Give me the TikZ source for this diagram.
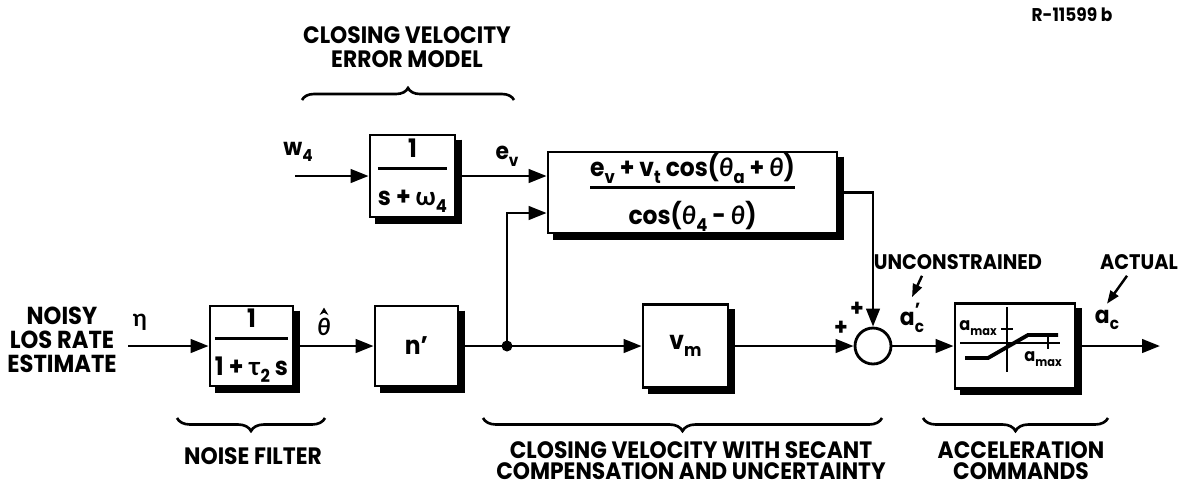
\documentclass[tikz,border=0pt]{standalone}
\usepackage{fontspec}
\usepackage{graphicx}
\setmainfont{Poppins}[FakeStretch=0.92]
\newfontfamily\gk{Lato}
\usetikzlibrary{arrows.meta,decorations.pathreplacing}
\newcommand\sbs[1]{\raisebox{-0.5ex}{\scalebox{0.7}{#1}}}
\newcommand\gth{{\gk\bfseries\itshape θ}}
\newcommand\fr[2]{\begin{tabular}{@{}c@{}}#1\\[1pt]\hline\rule{0pt}{2.5ex}#2\end{tabular}}
\setlength\arrayrulewidth{1.5pt}
\tikzset{
  conn/.style={line width=1.6pt},
  arr/.style={conn,-{Triangle[length=0.36cm,width=0.27cm]}},
  arrs/.style={line width=1.4pt,-{Triangle[length=0.26cm,width=0.19cm]}},
  blk/.style={draw,line width=1.6pt,inner sep=0pt,font=\fontsize{14.5}{15}\selectfont\bfseries},
  shd/.style={line width=3.2pt},
  brc/.style={line width=1.5pt,decorate},
  lab/.style={font=\fontsize{13.5}{14}\selectfont\bfseries},
  small/.style={font=\fontsize{12}{13}\selectfont\bfseries},
}
\begin{document}
\begin{tikzpicture}[x=0.02cm,y=-0.02cm,lab]
\useasboundingbox (0,0) rectangle (1183,488);
% blocks
\node[blk,minimum width=1.7cm,minimum height=1.64cm] (wb) at (412.5,176) {\fr{1}{s + {\gk\bfseries ω}\sbs{4}}};
\node[blk,minimum width=5.78cm,minimum height=1.62cm] (big) at (692.5,192.5) {\fr{e\sbs{v} + v\sbs{t} cos(\gth\sbs{a} + \gth)}{cos(\gth\sbs{4} - \gth)}};
\node[blk,minimum width=1.66cm,minimum height=1.6cm] (nf) at (251.5,346) {\fr{1}{1 + {\gk\bfseries τ}\sbs{2} s}};
\node[blk,minimum width=1.66cm,minimum height=1.6cm] (np) at (416.5,346) {n'};
\node[blk,minimum width=1.7cm,minimum height=1.66cm] (vm) at (685.5,346) {v\sbs{m}};
\node[circle,draw,line width=1.6pt,minimum size=0.72cm,inner sep=0pt] (sum) at (873,346) {};
\node[blk,minimum width=2.4cm,minimum height=1.7cm] (sat) at (1015,346) {};
% shadows
\foreach \n in {wb,big,nf,np,vm,sat}
  \draw[shd] ([shift={(0.05cm,-0.12cm)}]\n.north east) -- ([shift={(0.05cm,-0.05cm)}]\n.south east) -- ([shift={(0.12cm,-0.05cm)}]\n.south west);
% saturation graph
\draw[line width=1.4pt] (960,343) -- (1060,343);
\draw[line width=1.4pt] (1007,307) -- (1007,372);
\draw[line width=2.2pt] (965,358) -- (988,358) -- (1028,335) -- (1058,335);
\draw[line width=1.4pt] (1001,329) -- (1013,329);
\draw[line width=1.4pt] (1048,337) -- (1048,349);
\node[font=\fontsize{10}{11}\selectfont\bfseries] at (978,328) {a\sbs{max}};
\node[font=\fontsize{10}{11}\selectfont\bfseries] at (1043,359) {a\sbs{max}};
% coordinates
\coordinate (win) at (295,176);
\coordinate (ein) at (128,346);
\coordinate (jn) at (507,346);
\coordinate (out) at (1160,346);
% connectors
\draw[arr] (win) -- (wb);
\draw[arr] (wb) -- (wb.east -| big.west);
\draw[arr] (ein) -- (nf);
\draw[arr] (nf) -- (np);
\draw[conn] (np) -- (jn);
\draw[arr] (jn) -- (vm);
\draw[arr] (jn) |- ([yshift=-0.41cm]big.west);
\fill (jn) circle (0.11cm);
\draw[arr] (vm) -- (sum);
\draw[arr] (big.east) -| (sum.north);
\draw[arr] (sum) -- (sat);
\draw[arr] (sat) -- (out);
% labels
\node at (298,152) {w\sbs{4}};
\node at (507,156) {e\sbs{v}};
\node at (140,322) {{\gk\bfseries η}};
\node[inner sep=1pt] (th) at (324,327) {\gth};
\fill ([shift={(-0.09cm,0.02cm)}]th.north) -- ([yshift=0.17cm]th.north) -- ([shift={(0.09cm,0.02cm)}]th.north) -- ([yshift=0.07cm]th.north) -- cycle;
\node at (857,309) {+};
\node at (841,328) {+};
\node[small] (unc) at (958,262) {UNCONSTRAINED};
\node (acp) at (912,318) {a\rlap{\raisebox{0.7ex}{\scalebox{0.8}{'}}}\sbs{c}};
\node[small] (act) at (1139,262) {ACTUAL};
\node (acl) at (1107,320) {a\sbs{c}};
\draw[arrs] ([xshift=-0.72cm]unc.south) -- (acp.north);
\draw[arrs] ([xshift=-0.24cm]act.south) -- (acl.north);
% braces
\draw[brc,decoration={brace,amplitude=0.24cm}] (302,100) -- (514,100);
\draw[brc,decoration={brace,amplitude=0.26cm,mirror}] (177,418) -- (325,418);
\draw[brc,decoration={brace,amplitude=0.26cm,mirror}] (483,418) -- (882,418);
\draw[brc,decoration={brace,amplitude=0.26cm,mirror}] (923,418) -- (1108,418);
% texts
\node[align=center,font=\fontsize{13.5}{14}\selectfont\bfseries] at (407,47) {CLOSING VELOCITY\\ERROR MODEL};
\node[align=center,font=\fontsize{14}{13.5}\selectfont\bfseries] at (62,340) {NOISY\\LOS RATE\\ESTIMATE};
\node at (253,456) {NOISE FILTER};
\node[align=center,font=\fontsize{13.5}{12}\selectfont\bfseries] at (691,461) {CLOSING VELOCITY WITH SECANT\\COMPENSATION AND UNCERTAINTY};
\node[align=center,font=\fontsize{13.5}{12}\selectfont\bfseries] at (1021,461) {ACCELERATION\\COMMANDS};
\node[font=\fontsize{10.5}{11}\selectfont\bfseries] at (1072,15) {R-11599 b};
\end{tikzpicture}
\end{document}
